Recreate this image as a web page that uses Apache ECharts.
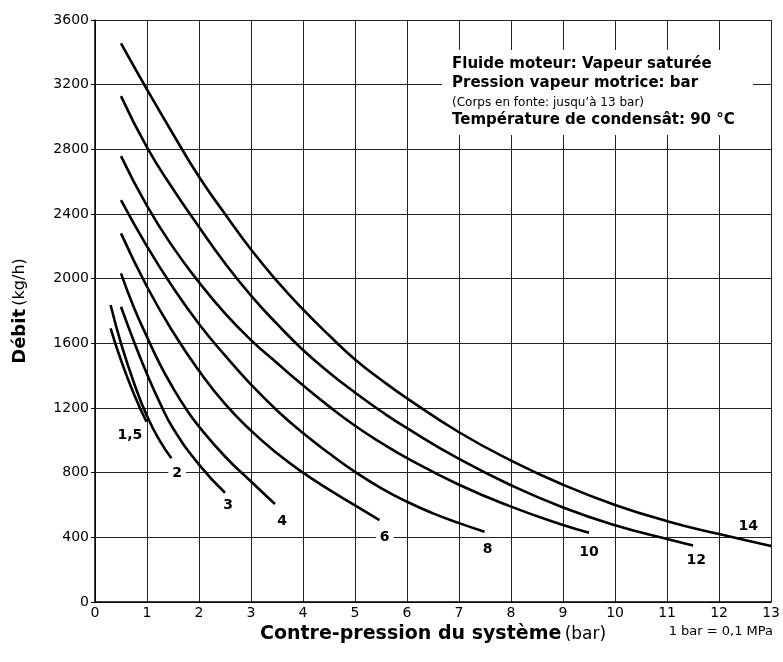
<!DOCTYPE html>
<html>
<head>
<meta charset="utf-8">
<script src="https://cdn.jsdelivr.net/npm/echarts@6/dist/echarts.min.js"></script>
<style>
html,body{margin:0;padding:0;background:#fff;}
#chart{width:783px;height:662px;}
</style>
</head>
<body>
<div id="chart"></div>
<script>
// Motive pressure labels (bar)
const pressures = ['1,5', '2', '3', '4', '6', '8', '10', '12', '14'];

// Curves: [back pressure (bar), flow (kg/h)]
const curve1_5 = [[0.3,1693],[0.5,1495],[0.75,1285],[0.99,1115]];
const curve2  = [[0.3,1837],[0.5,1600],[0.75,1355],[1.0,1150],[1.25,995],[1.47,889]];
const curve3  = [[0.5,1826],[0.75,1610],[1.0,1410],[1.25,1230],[1.5,1075],[2.0,850],[2.5,676]];
const curve4  = [[0.5,2033],[0.75,1820],[1.0,1640],[1.25,1470],[1.5,1325],[1.75,1195],[2.0,1085],[2.5,900],[3.0,745],[3.46,606]];
const curve6  = [[0.5,2280],[1.0,1950],[1.5,1670],[2.0,1430],[2.5,1225],[3.0,1060],[3.5,920],[4.0,800],[4.5,695],[5.0,598],[5.47,507]];
const curve8  = [[0.5,2486],[1.0,2200],[1.5,1945],[2.0,1720],[2.5,1525],[3.0,1345],[3.5,1185],[4.0,1045],[4.5,920],[5.0,805],[5.5,705],[6.0,620],[6.5,548],[7.0,488],[7.49,435]];
const curve10 = [[0.5,2758],[1.0,2450],[1.5,2195],[2.0,1978],[2.5,1785],[3.0,1620],[3.5,1478],[4.0,1340],[4.5,1210],[5.0,1090],[5.5,985],[6.0,890],[7.0,725],[8.0,590],[9.0,476],[9.5,429]];
const curve12 = [[0.5,3129],[1.0,2812],[1.5,2555],[2.0,2320],[2.5,2095],[3.0,1895],[3.5,1720],[4.0,1559],[4.5,1420],[5.0,1295],[5.5,1180],[6.0,1075],[7.0,885],[8.0,722],[9.0,585],[10.0,475],[11.0,390],[11.5,350]];
const curve14 = [[0.5,3455],[1.0,3170],[1.5,2895],[2.0,2630],[2.5,2400],[3.0,2180],[3.5,1985],[4.0,1810],[4.5,1650],[5.0,1500],[5.5,1375],[6.0,1260],[7.0,1050],[8.0,875],[9.0,725],[10.0,600],[11.0,500],[12.0,420],[13.0,346]];

const curves = [curve1_5, curve2, curve3, curve4, curve6, curve8, curve10, curve12, curve14];

// Curve label anchors [back pressure, flow]
const labelX = [0.67, 1.58, 2.56, 3.60, 5.57, 7.55, 9.50, 11.56, 12.56];
const labelY = [1033, 795, 600, 497, 400, 328, 305, 258, 467];

// Axis ticks
const xTicks = [0,1,2,3,4,5,6,7,8,9,10,11,12,13];
const yTicks = [0,400,800,1200,1600,2000,2400,2800,3200,3600];

const FONT = "'DejaVu Sans',Verdana,sans-serif";

const chart = echarts.init(document.getElementById('chart'), null, {renderer:'canvas'});

const lineSeries = curves.map((c, i) => ({
  name: pressures[i],
  type: 'line',
  data: c,
  smooth: 0.5,
  showSymbol: false,
  symbol: 'none',
  lineStyle: {color: '#000', width: 2.6},
  z: 3,
  silent: true
}));

const labelSeries = {
  type: 'scatter',
  symbolSize: 0,
  itemStyle: {opacity: 1, color: '#000'},
  data: pressures.map((p, i) => ({value: [labelX[i], labelY[i]], name: p})),
  label: {
    show: true,
    position: 'inside',
    formatter: p => p.name,
    color: '#000',
    opacity: 1,
    fontWeight: 'bold',
    fontSize: 14,
    fontFamily: FONT,
    backgroundColor: '#fff',
    padding: [1, 4]
  },
  z: 5,
  silent: true
};

chart.setOption({
  animation: false,
  backgroundColor: '#fff',
  grid: {left: 95, right: 11, top: 20, bottom: 60, containLabel: false},
  xAxis: {
    type: 'value',
    min: xTicks[0], max: xTicks[xTicks.length-1], interval: 1,
    axisLine: {show: true, lineStyle: {color: '#000', width: 1.5}},
    axisTick: {show: false},
    axisLabel: {color: '#000', fontSize: 14, fontFamily: FONT, margin: 4, formatter: v => String(v)},
    splitLine: {show: true, lineStyle: {color: '#222', width: 1}},
    name: '{b|Contre-pression du système} {n|(bar)}',
    nameLocation: 'middle',
    nameGap: 21,
    nameTextStyle: {
      rich: {
        b: {fontWeight: 'bold', fontSize: 19, fontFamily: FONT, color: '#000'},
        n: {fontSize: 17, fontFamily: FONT, color: '#000'}
      }
    }
  },
  yAxis: {
    type: 'value',
    min: yTicks[0], max: yTicks[yTicks.length-1], interval: 400,
    axisLine: {show: true, lineStyle: {color: '#000', width: 1.5}},
    axisTick: {show: true, length: 4, lineStyle: {color: '#000'}},
    axisLabel: {color: '#000', fontSize: 14, fontFamily: FONT, margin: 6, formatter: v => String(v)},
    splitLine: {show: true, lineStyle: {color: '#222', width: 1}},
    name: '{b|Débit} {n|(kg/h)}',
    nameLocation: 'middle',
    nameGap: 66,
    nameRotate: 90,
    nameTextStyle: {
      rich: {
        b: {fontWeight: 'bold', fontSize: 18, fontFamily: FONT, color: '#000'},
        n: {fontSize: 16, fontFamily: FONT, color: '#000'}
      }
    }
  },
  graphic: [
    {type: 'rect', left: 442, top: 50, shape: {width: 311, height: 85}, style: {fill: '#fff'}, z: 10},
    {type: 'text', left: 452, top: 57, style: {text: 'Fluide moteur: Vapeur saturée', font: "bold 15px " + FONT, fill: '#000'}, z: 11},
    {type: 'text', left: 452, top: 76, style: {text: 'Pression vapeur motrice: bar', font: "bold 15px " + FONT, fill: '#000'}, z: 11},
    {type: 'text', left: 452, top: 97, style: {text: '(Corps en fonte: jusqu’à 13 bar)', font: "12px " + FONT, fill: '#000'}, z: 11},
    {type: 'text', left: 452, top: 113, style: {text: 'Température de condensât: 90 °C', font: "bold 15px " + FONT, fill: '#000'}, z: 11},
    {type: 'text', right: 10, top: 625, style: {text: '1 bar = 0,1 MPa', font: "13px " + FONT, fill: '#000'}, z: 11}
  ],
  series: [...lineSeries, labelSeries]
});
</script>
</body>
</html>
